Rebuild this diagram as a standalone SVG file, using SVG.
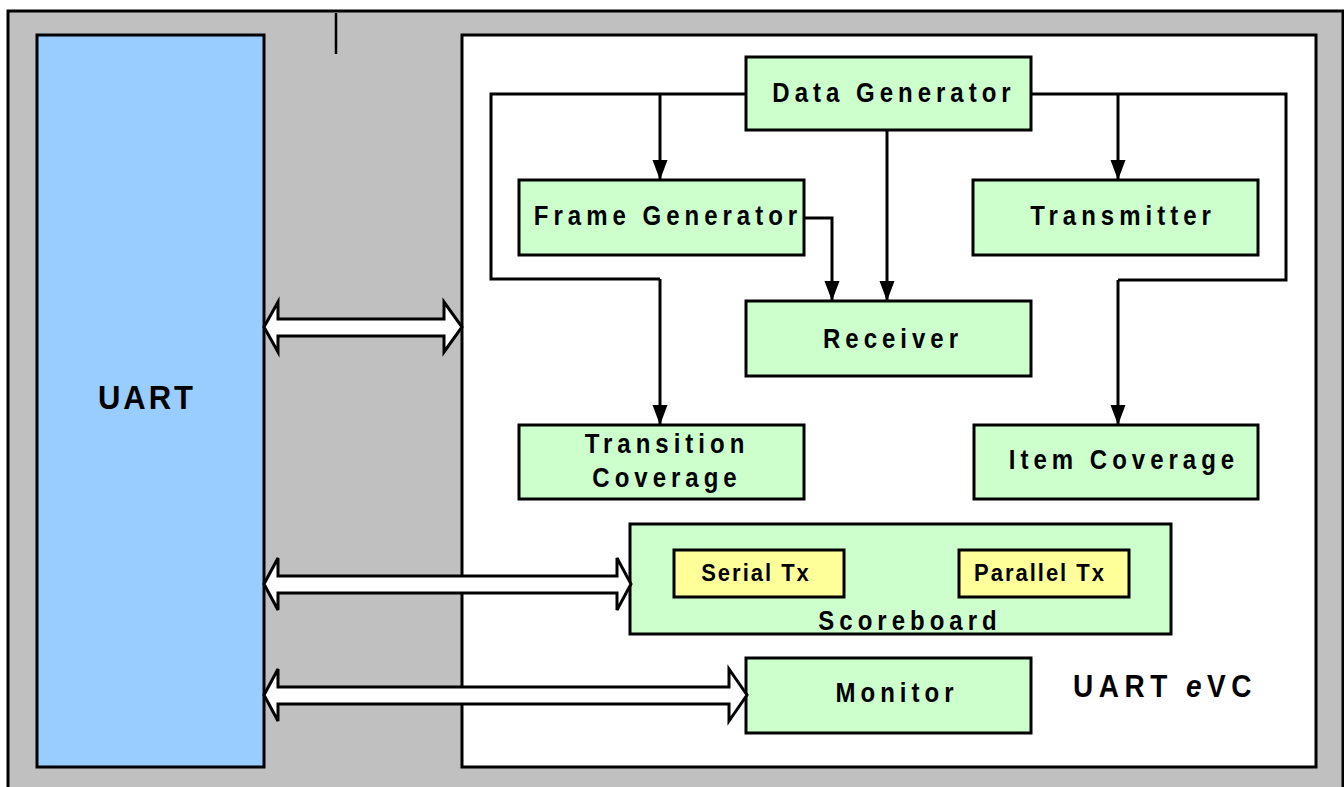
<svg xmlns="http://www.w3.org/2000/svg" width="1344" height="787" viewBox="0 0 1344 787">
<style>
  .frame { stroke: #000; stroke-width: 3; }
  .node { fill: #CCFFCC; stroke: #000; stroke-width: 3; }
  .sub { fill: #FFFF99; stroke: #000; stroke-width: 3; }
  .t { font-family: "Liberation Sans", Arial, sans-serif; font-weight: bold; font-size: 24px; letter-spacing: 5px; text-anchor: middle; fill: #000; }
  .ts { font-family: "Liberation Sans", Arial, sans-serif; font-weight: bold; font-size: 22px; letter-spacing: 2px; text-anchor: middle; fill: #000; }
  .wire { fill: none; stroke: #000; stroke-width: 3; }
  .arrow { fill: none; stroke: #000; stroke-width: 3; marker-end: url(#head); }
  .dbl { fill: #fff; stroke: #000; stroke-width: 3; stroke-linejoin: miter; }
</style>
<defs>
  <marker id="head" markerUnits="userSpaceOnUse" markerWidth="21" markerHeight="16" refX="20" refY="7.5" orient="auto">
    <path d="M0,0 L20,7.5 L0,15 Z" fill="#000"/>
  </marker>
</defs>

<g id="background">
  <rect class="frame" x="8" y="11" width="1335" height="800" fill="#C0C0C0"/>
  <line x1="336" y1="13" x2="336" y2="54" stroke="#000" stroke-width="2.5"/>
</g>

<g id="uart">
  <rect class="frame" x="37" y="35" width="227" height="732" fill="#99CCFF"/>
  <text class="t" style="font-size:31px;letter-spacing:3px" transform="translate(147,409) scale(1,1.1)">UART</text>
</g>

<g id="uart-evc">
  <rect class="frame" x="462" y="35" width="854" height="732" fill="#FFFFFF"/>
  <text class="t" style="font-size:28px;letter-spacing:5.5px;text-anchor:start" transform="translate(1073,697) scale(1,1.1)">UART <tspan font-style="italic">e</tspan>VC</text>
</g>

<g id="data-generator">
  <rect class="node" x="746" y="57" width="285" height="73"/>
  <text class="t" transform="translate(894,102) scale(1,1.15)">Data Generator</text>
</g>

<g id="frame-generator">
  <rect class="node" x="519" y="180" width="285" height="75"/>
  <text class="t" transform="translate(668,225) scale(1,1.15)">Frame Generator</text>
</g>

<g id="transmitter">
  <rect class="node" x="973" y="180" width="285" height="75"/>
  <text class="t" transform="translate(1123,225) scale(1,1.15)">Transmitter</text>
</g>

<g id="receiver">
  <rect class="node" x="746" y="301" width="285" height="75"/>
  <text class="t" transform="translate(893,348) scale(1,1.15)">Receiver</text>
</g>

<g id="transition-coverage">
  <rect class="node" x="519" y="425" width="285" height="74"/>
  <text class="t" transform="translate(667,453) scale(1,1.15)">Transition</text>
  <text class="t" transform="translate(667,487) scale(1,1.15)">Coverage</text>
</g>

<g id="item-coverage">
  <rect class="node" x="974" y="425" width="284" height="74"/>
  <text class="t" transform="translate(1124,469) scale(1,1.15)">Item Coverage</text>
</g>

<g id="scoreboard">
  <rect class="node" x="630" y="524" width="541" height="110"/>
  <text class="t" transform="translate(910,630) scale(1,1.15)">Scoreboard</text>
</g>

<g id="serial-tx">
  <rect class="sub" x="674" y="550" width="170" height="47"/>
  <text class="ts" transform="translate(756,581) scale(1,1.1)">Serial Tx</text>
</g>

<g id="parallel-tx">
  <rect class="sub" x="959" y="550" width="170" height="47"/>
  <text class="ts" transform="translate(1040,581) scale(1,1.1)">Parallel Tx</text>
</g>

<g id="monitor">
  <rect class="node" x="746" y="658" width="285" height="75"/>
  <text class="t" transform="translate(897,702) scale(1,1.15)">Monitor</text>
</g>

<g id="connectors">
  <path class="wire" d="M746,94 H491 V279 H660"/>
  <path class="arrow" d="M660,279 V425"/>
  <path class="arrow" d="M660,94 V180"/>
  <path class="arrow" d="M887,130 V301"/>
  <path class="arrow" d="M804,218 H832 V301"/>
  <path class="wire" d="M1031,94 H1286 V280 H1118"/>
  <path class="arrow" d="M1118,280 V425"/>
  <path class="arrow" d="M1118,94 V180"/>
  <polygon class="dbl" points="264,327 278,302 278,319 444,319 444,302 462,327 444,352 444,336 278,336 278,352"/>
  <polygon class="dbl" points="264,584 278,558 278,576 617,576 617,558 631,584 617,610 617,593 278,593 278,610"/>
  <polygon class="dbl" points="264,695 278,669 278,687 729,687 729,669 747,695 729,721 729,704 278,704 278,721"/>
</g>
</svg>
